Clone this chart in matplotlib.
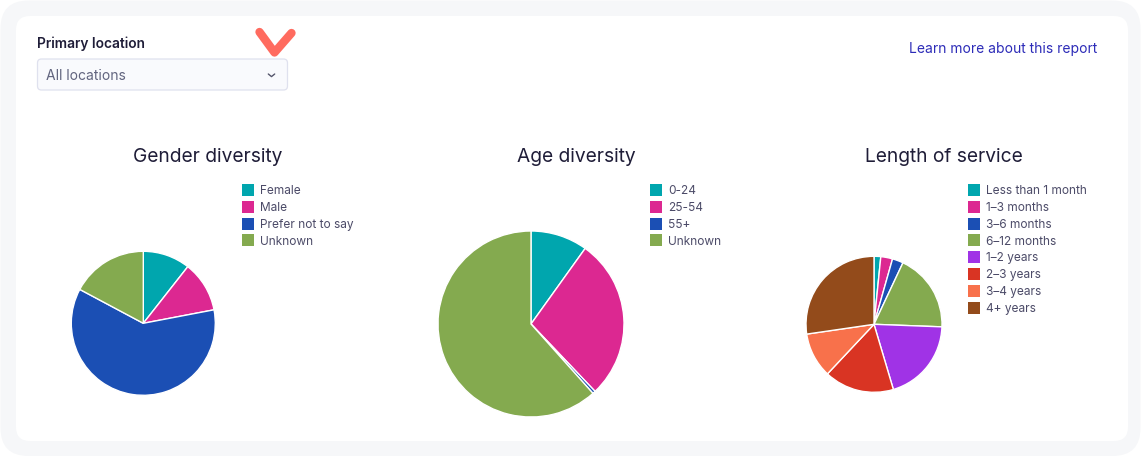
import matplotlib
matplotlib.use("Agg")
import matplotlib.pyplot as plt
from matplotlib.patches import FancyBboxPatch, Rectangle

# --- data (shares in %) ---
gender_labels = ["Female", "Male", "Prefer not to say", "Unknown"]
gender_values = [10.6, 11.4, 60.8, 17.2]
gender_colors = ["#00a6ae", "#dc2891", "#1b4fb4", "#84aa4f"]

age_labels = ["0-24", "25-54", "55+", "Unknown"]
age_values = [9.9, 28.0, 0.5, 61.6]
age_colors = ["#00a6ae", "#dc2891", "#1b4fb4", "#84aa4f"]

service_labels = ["Less than 1 month", "1\u20133 months", "3\u20136 months", "6\u201312 months",
                  "1\u20132 years", "2\u20133 years", "3\u20134 years", "4+ years"]
service_values = [1.6, 2.8, 2.6, 18.6, 19.8, 16.6, 10.7, 27.3]
service_colors = ["#00a6ae", "#dc2891", "#1b4fb4", "#84aa4f",
                  "#a033e6", "#d93423", "#f8714b", "#934b1b"]

W, H = 1144, 457
plt.rcParams["font.family"] = ["Inter", "DejaVu Sans"]

fig = plt.figure(figsize=(W / 100, H / 100), dpi=100)
ax = fig.add_axes([0, 0, 1, 1])


def Y(py):
    # pixel rows run downward, data y runs upward
    return H - py


# outer grey frame and white card
ax.add_patch(FancyBboxPatch((0.5, Y(456)), 1140, 455.5,
                            boxstyle="round,pad=0,rounding_size=28",
                            fc="#f6f7f9", ec="none"))
ax.add_patch(FancyBboxPatch((16, Y(441)), 1112, 425,
                            boxstyle="round,pad=0,rounding_size=14",
                            fc="white", ec="none"))

# header: location filter
ax.text(37, Y(48), "Primary location", fontsize=9.9, fontweight="semibold",
        color="#1f1d38", va="baseline")
ax.add_patch(FancyBboxPatch((37.5, Y(90)), 250, 31,
                            boxstyle="round,pad=0,rounding_size=4",
                            fc="#f9fafd", ec="#dfe1ee", lw=0.9))
ax.text(46, Y(80), "All locations", fontsize=10, color="#62657f", va="baseline")
ax.plot([268.3, 271.5, 274.7], [Y(74), Y(76.6), Y(74)], color="#55566c", lw=1.0,
        solid_capstyle="round", solid_joinstyle="round")
# hand-drawn red tick over the filter
ax.plot([259.5, 274.5, 291.5], [Y(32), Y(52.5), Y(33)], color="#ff6b5f", lw=6,
        solid_capstyle="round", solid_joinstyle="round")

ax.text(909, Y(53), "Learn more about this report", fontsize=10.0, color="#2d2cb8",
        va="baseline")

charts = [
    ("Gender diversity", gender_labels, gender_values, gender_colors, (143.3, 323.3), 72, 208, 242),
    ("Age diversity", age_labels, age_values, age_colors, (531, 324), 93, 576, 650),
    ("Length of service", service_labels, service_values, service_colors, (874, 324.3), 68, 944, 968),
]

for title, labels, values, colors, (cx, cy), r, tx, lx in charts:
    ax.text(tx, Y(162), title, fontsize=13.8, color="#1f1d38", ha="center", va="baseline")
    ax.pie(values, colors=colors, startangle=90, counterclock=False,
           center=(cx, Y(cy)), radius=r, frame=True,
           wedgeprops=dict(edgecolor="white", linewidth=1.0))
    for i, (lab, col) in enumerate(zip(labels, colors)):
        yc = 190 + i * 16.8
        ax.add_patch(Rectangle((lx, Y(yc + 6)), 12, 12, fc=col, ec="none"))
        ax.text(lx + 18, Y(yc + 4.3), lab, fontsize=8.55, color="#4c4b68", va="baseline")

ax.set_xlim(0, W)
ax.set_ylim(0, H)
ax.set_aspect("auto")
ax.axis("off")

fig.savefig("out.png", dpi=100, facecolor="white")
